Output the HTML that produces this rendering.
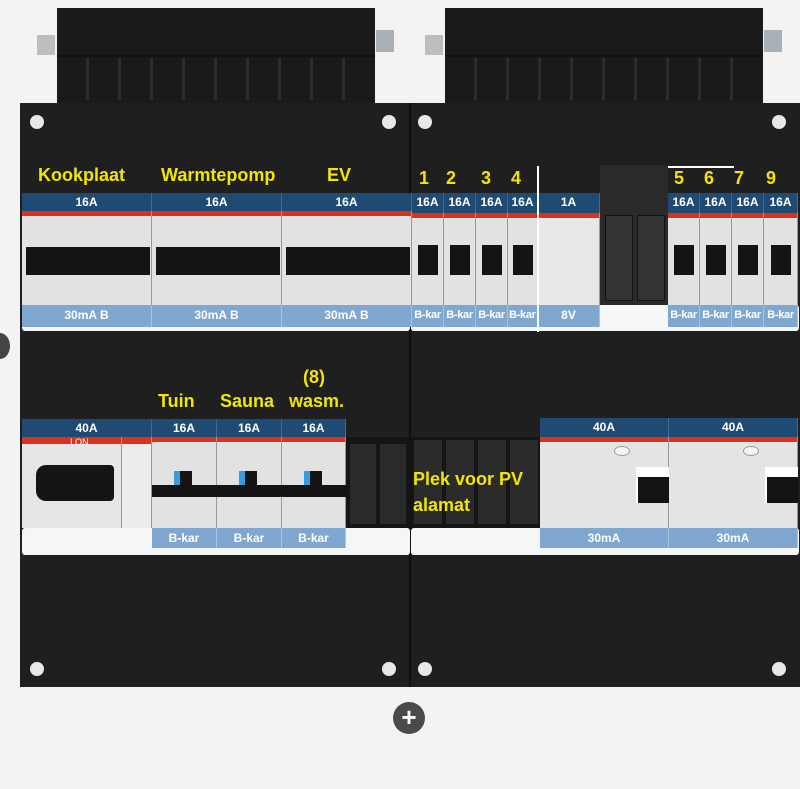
<!DOCTYPE html>
<html><head><style>
body{margin:0;width:800px;height:789px;background:#f3f3f3;position:relative;overflow:hidden;font-family:"Liberation Sans","DejaVu Sans",sans-serif;}
div{position:absolute;box-sizing:border-box;}
.blk{background:#1c1c1c;}
.hdr{background:#1f4a73;color:#fff;font-weight:bold;font-size:12px;text-align:center;line-height:18px;border-right:1px solid #3e6a93;}
.brk{background:#e2e2e2;border-right:1px solid #999;}
.red{background:#d8331f;height:5px;left:0;right:0;top:0;}
.bot{background:#7fa7cf;color:#fff;font-weight:bold;font-size:12px;text-align:center;line-height:20px;border-right:1px solid #a9c4e0;white-space:nowrap;overflow:hidden;}
.sm{font-size:11px;letter-spacing:-0.3px;}
.tog{background:#141414;}
.y{color:#f2e600;font-weight:bold;font-size:18px;}
.scr{width:14px;height:14px;border-radius:50%;background:#e8e8e8;}
.rib{width:3px;height:70px;background:#2c2c2c;top:58px;}
</style></head><body>
<!-- top connectors -->
<div class="blk" style="left:57px;top:8px;width:318px;height:96px;background:#1a1a1a"></div>
<div class="blk" style="left:445px;top:8px;width:318px;height:96px;background:#1a1a1a"></div>
<div style="left:57px;top:55px;width:318px;height:2px;background:#111"></div>
<div style="left:445px;top:55px;width:318px;height:2px;background:#111"></div>
<div class="rib" style="left:86px;top:58px;height:42px"></div><div class="rib" style="left:118px;top:58px;height:42px"></div><div class="rib" style="left:150px;top:58px;height:42px"></div><div class="rib" style="left:182px;top:58px;height:42px"></div><div class="rib" style="left:214px;top:58px;height:42px"></div><div class="rib" style="left:246px;top:58px;height:42px"></div><div class="rib" style="left:278px;top:58px;height:42px"></div><div class="rib" style="left:310px;top:58px;height:42px"></div><div class="rib" style="left:342px;top:58px;height:42px"></div>
<div class="rib" style="left:474px;top:58px;height:42px"></div><div class="rib" style="left:506px;top:58px;height:42px"></div><div class="rib" style="left:538px;top:58px;height:42px"></div><div class="rib" style="left:570px;top:58px;height:42px"></div><div class="rib" style="left:602px;top:58px;height:42px"></div><div class="rib" style="left:634px;top:58px;height:42px"></div><div class="rib" style="left:666px;top:58px;height:42px"></div><div class="rib" style="left:698px;top:58px;height:42px"></div><div class="rib" style="left:730px;top:58px;height:42px"></div>
<div style="left:37px;top:35px;width:18px;height:20px;background:#bdbdbd"></div>
<div style="left:376px;top:30px;width:18px;height:22px;background:#a9b1b8"></div>
<div style="left:425px;top:35px;width:18px;height:20px;background:#bdbdbd"></div>
<div style="left:764px;top:30px;width:18px;height:22px;background:#a9b1b8"></div>
<!-- panel -->
<div class="blk" style="left:20px;top:103px;width:780px;height:584px;background:#1f1f1f"></div>
<div style="left:409px;top:103px;width:2px;height:584px;background:#0e0e0e"></div>
<div class="scr" style="left:30px;top:115px"></div><div class="scr" style="left:382px;top:115px"></div>
<div class="scr" style="left:418px;top:115px"></div><div class="scr" style="left:772px;top:115px"></div>
<div class="scr" style="left:30px;top:662px"></div><div class="scr" style="left:382px;top:662px"></div>
<div class="scr" style="left:418px;top:662px"></div><div class="scr" style="left:772px;top:662px"></div>
<div style="left:-10px;top:333px;width:20px;height:26px;border-radius:50%;background:#444"></div>

<!-- labels row1 -->
<div class="y" style="left:38px;top:165px">Kookplaat</div>
<div class="y" style="left:161px;top:165px">Warmtepomp</div>
<div class="y" style="left:327px;top:165px">EV</div>
<div class="y" style="left:419px;top:168px">1</div>
<div class="y" style="left:446px;top:168px">2</div>
<div class="y" style="left:481px;top:168px">3</div>
<div class="y" style="left:511px;top:168px">4</div>
<div class="y" style="left:674px;top:168px">5</div>
<div class="y" style="left:704px;top:168px">6</div>
<div class="y" style="left:734px;top:168px">7</div>
<div class="y" style="left:766px;top:168px">9</div>
<div style="left:668px;top:166px;width:66px;height:2px;background:#fff"></div>

<!-- row1 white strip -->
<div style="left:22px;top:305px;width:388px;height:26px;background:#f4f6f8;border-radius:3px"></div>
<div style="left:411px;top:305px;width:388px;height:26px;background:#f4f6f8;border-radius:3px"></div>

<!-- row1 left RCBOs -->
<div class="hdr" style="left:22px;top:193px;width:130px;height:18px">16A</div>
<div class="hdr" style="left:152px;top:193px;width:130px;height:18px">16A</div>
<div class="hdr" style="left:282px;top:193px;width:130px;height:18px">16A</div>
<div class="brk" style="left:22px;top:211px;width:130px;height:94px"><div class="red"></div><div class="tog" style="left:4px;top:36px;width:124px;height:28px"></div></div>
<div class="brk" style="left:152px;top:211px;width:130px;height:94px"><div class="red"></div><div class="tog" style="left:4px;top:36px;width:124px;height:28px"></div></div>
<div class="brk" style="left:282px;top:211px;width:130px;height:94px"><div class="red"></div><div class="tog" style="left:4px;top:36px;width:124px;height:28px"></div></div>
<div class="bot" style="left:22px;top:305px;width:130px;height:22px">30mA B</div>
<div class="bot" style="left:152px;top:305px;width:130px;height:22px">30mA B</div>
<div class="bot" style="left:282px;top:305px;width:130px;height:22px">30mA B</div>

<!-- row1 right small -->
<div class="hdr" style="left:412px;top:193px;width:32px;height:20px">16A</div>
<div class="hdr" style="left:444px;top:193px;width:32px;height:20px">16A</div>
<div class="hdr" style="left:476px;top:193px;width:32px;height:20px">16A</div>
<div class="hdr" style="left:508px;top:193px;width:30px;height:20px">16A</div>
<div class="hdr" style="left:538px;top:193px;width:62px;height:20px">1A</div>
<div class="hdr" style="left:668px;top:193px;width:32px;height:20px">16A</div>
<div class="hdr" style="left:700px;top:193px;width:32px;height:20px">16A</div>
<div class="hdr" style="left:732px;top:193px;width:32px;height:20px">16A</div>
<div class="hdr" style="left:764px;top:193px;width:34px;height:20px">16A</div>
<div class="brk" style="left:412px;top:213px;width:32px;height:92px"><div class="red"></div><div class="tog" style="left:6px;top:32px;width:20px;height:30px"></div></div>
<div class="brk" style="left:444px;top:213px;width:32px;height:92px"><div class="red"></div><div class="tog" style="left:6px;top:32px;width:20px;height:30px"></div></div>
<div class="brk" style="left:476px;top:213px;width:32px;height:92px"><div class="red"></div><div class="tog" style="left:6px;top:32px;width:20px;height:30px"></div></div>
<div class="brk" style="left:508px;top:213px;width:30px;height:92px"><div class="red"></div><div class="tog" style="left:5px;top:32px;width:20px;height:30px"></div></div>
<div class="brk" style="left:538px;top:213px;width:62px;height:92px;background:#e8e8e8"><div class="red"></div></div>
<div style="left:600px;top:165px;width:68px;height:140px;background:#2a2a2a"></div>
<div style="left:605px;top:215px;width:28px;height:86px;background:#333;border:1px solid #111"></div>
<div style="left:637px;top:215px;width:28px;height:86px;background:#333;border:1px solid #111"></div>
<div class="brk" style="left:668px;top:213px;width:32px;height:92px"><div class="red"></div><div class="tog" style="left:6px;top:32px;width:20px;height:30px"></div></div>
<div class="brk" style="left:700px;top:213px;width:32px;height:92px"><div class="red"></div><div class="tog" style="left:6px;top:32px;width:20px;height:30px"></div></div>
<div class="brk" style="left:732px;top:213px;width:32px;height:92px"><div class="red"></div><div class="tog" style="left:6px;top:32px;width:20px;height:30px"></div></div>
<div class="brk" style="left:764px;top:213px;width:34px;height:92px"><div class="red"></div><div class="tog" style="left:7px;top:32px;width:20px;height:30px"></div></div>
<div class="bot sm" style="left:412px;top:305px;width:32px;height:22px">B-kar</div>
<div class="bot sm" style="left:444px;top:305px;width:32px;height:22px">B-kar</div>
<div class="bot sm" style="left:476px;top:305px;width:32px;height:22px">B-kar</div>
<div class="bot sm" style="left:508px;top:305px;width:30px;height:22px;text-align:left;padding-left:1px">B-kar</div>
<div class="bot" style="left:538px;top:305px;width:62px;height:22px">8V</div>
<div class="bot sm" style="left:668px;top:305px;width:32px;height:22px">B-kar</div>
<div class="bot sm" style="left:700px;top:305px;width:32px;height:22px">B-kar</div>
<div class="bot sm" style="left:732px;top:305px;width:32px;height:22px">B-kar</div>
<div class="bot sm" style="left:764px;top:305px;width:34px;height:22px">B-kar</div>
<div style="left:537px;top:166px;width:2px;height:166px;background:#fff"></div>

<!-- row2 labels -->
<div class="y" style="left:303px;top:367px">(8)</div>
<div class="y" style="left:158px;top:391px">Tuin</div>
<div class="y" style="left:220px;top:391px">Sauna</div>
<div class="y" style="left:289px;top:391px">wasm.</div>

<!-- row2 -->
<div style="left:22px;top:528px;width:388px;height:27px;background:#f4f6f8;border-radius:3px"></div>
<div style="left:411px;top:528px;width:388px;height:27px;background:#f4f6f8;border-radius:3px"></div>
<div class="hdr" style="left:22px;top:419px;width:130px;height:18px">40A</div>
<div class="brk" style="left:22px;top:437px;width:100px;height:91px;background:#e6e6e6"><div class="red" style="height:7px"></div><div style="left:48px;top:0;font-size:9px;color:#fff">I ON</div><div class="tog" style="left:14px;top:28px;width:78px;height:36px;border-radius:10px 4px 4px 10px"></div></div>
<div class="brk" style="left:122px;top:437px;width:30px;height:91px;background:#ececec"><div class="red" style="height:7px"></div></div>
<div class="hdr" style="left:152px;top:419px;width:65px;height:18px">16A</div>
<div class="hdr" style="left:217px;top:419px;width:65px;height:18px">16A</div>
<div class="hdr" style="left:282px;top:419px;width:64px;height:18px">16A</div>
<div class="brk" style="left:152px;top:437px;width:65px;height:91px"><div class="red"></div><div class="tog" style="left:0;top:48px;width:65px;height:12px"></div><div style="left:22px;top:34px;width:6px;height:14px;background:#3a9be0"></div><div class="tog" style="left:28px;top:34px;width:12px;height:14px"></div></div>
<div class="brk" style="left:217px;top:437px;width:65px;height:91px"><div class="red"></div><div class="tog" style="left:0;top:48px;width:65px;height:12px"></div><div style="left:22px;top:34px;width:6px;height:14px;background:#3a9be0"></div><div class="tog" style="left:28px;top:34px;width:12px;height:14px"></div></div>
<div class="brk" style="left:282px;top:437px;width:64px;height:91px"><div class="red"></div><div class="tog" style="left:0;top:48px;width:64px;height:12px"></div><div style="left:22px;top:34px;width:6px;height:14px;background:#3a9be0"></div><div class="tog" style="left:28px;top:34px;width:12px;height:14px"></div></div>
<div class="bot" style="left:152px;top:528px;width:65px;height:20px">B-kar</div>
<div class="bot" style="left:217px;top:528px;width:65px;height:20px">B-kar</div>
<div class="bot" style="left:282px;top:528px;width:64px;height:20px">B-kar</div>
<!-- blanks -->
<div style="left:346px;top:437px;width:64px;height:91px;background:#151515"></div>
<div style="left:350px;top:444px;width:26px;height:80px;background:#2a2a2a"></div>
<div style="left:380px;top:444px;width:26px;height:80px;background:#2a2a2a"></div>
<div style="left:411px;top:437px;width:129px;height:91px;background:#151515"></div>
<div style="left:414px;top:440px;width:28px;height:84px;background:#2b2b2b"></div>
<div style="left:446px;top:440px;width:28px;height:84px;background:#2b2b2b"></div>
<div style="left:478px;top:440px;width:28px;height:84px;background:#2b2b2b"></div>
<div style="left:510px;top:440px;width:28px;height:84px;background:#2b2b2b"></div>
<div class="y" style="left:413px;top:466px;line-height:26px">Plek voor PV<br>alamat</div>
<!-- RCDs -->
<div class="hdr" style="left:540px;top:418px;width:129px;height:19px">40A</div>
<div class="hdr" style="left:669px;top:418px;width:129px;height:19px">40A</div>
<div class="brk" style="left:540px;top:437px;width:129px;height:91px;background:#e4e4e4"><div class="red"></div><div style="left:74px;top:9px;width:16px;height:10px;border-radius:50%;background:#f5f5f5;border:1px solid #999"></div><div class="tog" style="left:96px;top:30px;width:33px;height:36px;background:#fff"></div><div class="tog" style="left:98px;top:40px;width:31px;height:26px"></div></div>
<div class="brk" style="left:669px;top:437px;width:129px;height:91px;background:#e4e4e4"><div class="red"></div><div style="left:74px;top:9px;width:16px;height:10px;border-radius:50%;background:#f5f5f5;border:1px solid #999"></div><div class="tog" style="left:96px;top:30px;width:33px;height:36px;background:#fff"></div><div class="tog" style="left:98px;top:40px;width:31px;height:26px"></div></div>
<div class="bot" style="left:540px;top:528px;width:129px;height:20px">30mA</div>
<div class="bot" style="left:669px;top:528px;width:129px;height:20px">30mA</div>

<!-- plus -->
<div style="left:393px;top:702px;width:32px;height:32px;border-radius:50%;background:#4a4a4a;color:#fff;font-size:26px;font-weight:bold;text-align:center;line-height:31px">+</div>
</body></html>
